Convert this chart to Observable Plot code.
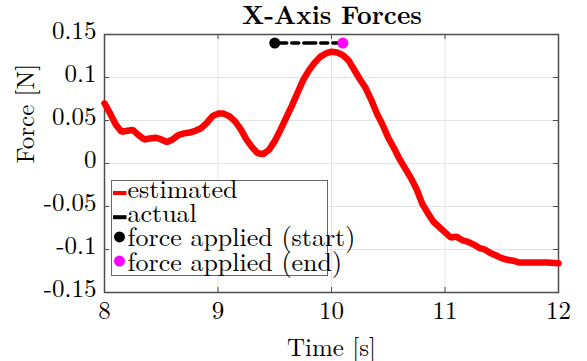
<!DOCTYPE html>
<html><head><meta charset="utf-8">
<script src="https://cdn.jsdelivr.net/npm/d3@7"></script>
<script src="https://cdn.jsdelivr.net/npm/@observablehq/plot@0.6"></script>
<style>
body{margin:0;background:#fff;font-family:"Latin Modern Roman","Liberation Serif",serif;}
#wrap{position:relative;width:587px;height:361px;overflow:hidden;}
#chart{position:absolute;left:0;top:0;}
#overlay{position:absolute;left:0;top:0;pointer-events:none;}
</style></head>
<body>
<div id="wrap">
<div id="chart"></div>
<svg id="overlay" width="587" height="361"></svg>
</div>
<script>
const time = [8.00,8.05,8.10,8.15,8.20,8.25,8.30,8.35,8.40,8.45,8.50,8.55,8.60,8.65,8.70,8.75,8.80,8.85,8.90,8.95,9.00,9.05,9.10,9.15,9.20,9.25,9.30,9.35,9.40,9.45,9.50,9.55,9.60,9.65,9.70,9.75,9.80,9.85,9.90,9.95,10.00,10.05,10.10,10.15,10.20,10.25,10.30,10.35,10.40,10.45,10.50,10.55,10.60,10.65,10.70,10.75,10.80,10.85,10.90,10.95,11.00,11.05,11.10,11.15,11.20,11.25,11.30,11.35,11.40,11.45,11.50,11.55,11.60,11.65,11.70,11.80,11.90,12.00];
const estimated = [0.070,0.058,0.045,0.037,0.038,0.039,0.033,0.028,0.029,0.030,0.028,0.025,0.028,0.033,0.035,0.036,0.038,0.041,0.047,0.055,0.058,0.058,0.055,0.049,0.040,0.028,0.019,0.012,0.011,0.016,0.026,0.039,0.053,0.067,0.082,0.097,0.108,0.117,0.124,0.128,0.130,0.129,0.126,0.120,0.109,0.098,0.088,0.074,0.058,0.045,0.030,0.018,0.005,-0.006,-0.017,-0.030,-0.047,-0.058,-0.068,-0.074,-0.080,-0.086,-0.085,-0.089,-0.091,-0.094,-0.098,-0.100,-0.104,-0.107,-0.110,-0.112,-0.113,-0.115,-0.115,-0.115,-0.115,-0.116];
const actualTime = [9.5, 10.1];
const actualForce = [0.14, 0.14];
const startPoint = {t: 9.5, f: 0.14};
const endPoint = {t: 10.1, f: 0.14};
const xTicks = [8, 9, 10, 11, 12];
const yTicks = [-0.15, -0.1, -0.05, 0, 0.05, 0.1, 0.15];
const titleText = "X-Axis Forces";
const xLabel = "Time [s]";
const yLabel = "Force [N]";
const legendItems = [
  {label: "estimated", color: "#ff0000", kind: "line"},
  {label: "actual", color: "#000000", kind: "line"},
  {label: "force applied (start)", color: "#000000", kind: "dot"},
  {label: "force applied (end)", color: "#ff00ff", kind: "dot"}
];

const est = time.map((t, i) => ({t, f: estimated[i]}));
const act = actualTime.map((t, i) => ({t, f: actualForce[i]}));
const W = 587, H = 361, mL = 104, mR = 29, mT = 34, mB = 69;
const pw = W - mL - mR, ph = H - mT - mB, tk = 5;
const fmt = d => d === 0 ? "0" : String(+d.toFixed(2));
const serif = '"Latin Modern Roman","Liberation Serif",serif';
const axisColor = "#4d4d4d";

const chart = Plot.plot({
  width: W, height: H,
  marginLeft: mL, marginRight: mR, marginTop: mT, marginBottom: mB,
  style: {fontFamily: serif, fontSize: "25px", color: "#000", background: "#fff"},
  x: {domain: [8, 12], ticks: xTicks, label: null},
  y: {domain: [-0.15, 0.15], ticks: yTicks, label: null},
  marks: [
    Plot.ruleX(xTicks, {stroke: "#e3e3e3", strokeWidth: 1}),
    Plot.ruleY(yTicks, {stroke: "#e3e3e3", strokeWidth: 1}),
    Plot.frame({stroke: axisColor, strokeWidth: 1.5}),
    Plot.ruleX(xTicks, {stroke: axisColor, insetTop: ph - tk}),
    Plot.ruleX(xTicks, {stroke: axisColor, insetBottom: ph - tk}),
    Plot.ruleY(yTicks, {stroke: axisColor, insetRight: pw - tk}),
    Plot.ruleY(yTicks, {stroke: axisColor, insetLeft: pw - tk}),
    Plot.axisX({ticks: xTicks, tickSize: 0, tickPadding: 9, tickFormat: fmt, fontSize: 25, fontFamily: serif, fill: "#000", label: null}),
    Plot.axisY({ticks: yTicks, tickSize: 0, tickPadding: 8, dy: -4, tickFormat: fmt, fontSize: 25, fontFamily: serif, fill: "#000", label: null}),
    Plot.text([xLabel], {frameAnchor: "bottom", lineAnchor: "bottom", dy: 63, fontSize: 25, fontFamily: serif, fill: "#000"}),
    Plot.text([yLabel], {frameAnchor: "left", lineAnchor: "bottom", dx: -71, rotate: -90, fontSize: 25, fontFamily: serif, fill: "#000"}),
    Plot.line(est, {x: "t", y: "f", stroke: "#ff0000", strokeWidth: 6.5, strokeLinejoin: "miter"}),
    Plot.line(act, {x: "t", y: "f", stroke: "#000", strokeWidth: 3.5, strokeDasharray: "12,5,7,5"}),
    Plot.dot([startPoint], {x: "t", y: "f", r: 5.5, fill: "#000"}),
    Plot.dot([endPoint], {x: "t", y: "f", r: 5.5, fill: "#ff00ff"})
  ]
});
document.getElementById("chart").appendChild(chart);

// title and legend overlay
const ov = d3.select("#overlay");
ov.append("text").attr("x", 332).attr("y", 24).attr("text-anchor", "middle")
  .attr("font-family", serif).attr("font-weight", "bold").attr("font-size", 25.5).attr("fill", "#000").text(titleText);

const lgX = 111.5, lgY = 180.5, lgW = 216, lgH = 95, rowH = 24.2, base0 = 198;
ov.append("rect").attr("x", lgX).attr("y", lgY).attr("width", lgW).attr("height", lgH)
  .attr("fill", "#fff").attr("stroke", "#666").attr("stroke-width", 1);
legendItems.forEach((it, i) => {
  const b = base0 + i * rowH;
  if (it.kind === "line") {
    ov.append("line").attr("x1", 113).attr("x2", 126.5).attr("y1", b - 5).attr("y2", b - 5)
      .attr("stroke", it.color).attr("stroke-width", 4);
  } else {
    ov.append("circle").attr("cx", 119.5).attr("cy", b - 9.5).attr("r", 5.5).attr("fill", it.color);
  }
  ov.append("text").attr("x", 127.5).attr("y", b).attr("font-family", serif).attr("font-size", 26)
    .attr("fill", "#000").text(it.label);
});
</script>
</body></html>
